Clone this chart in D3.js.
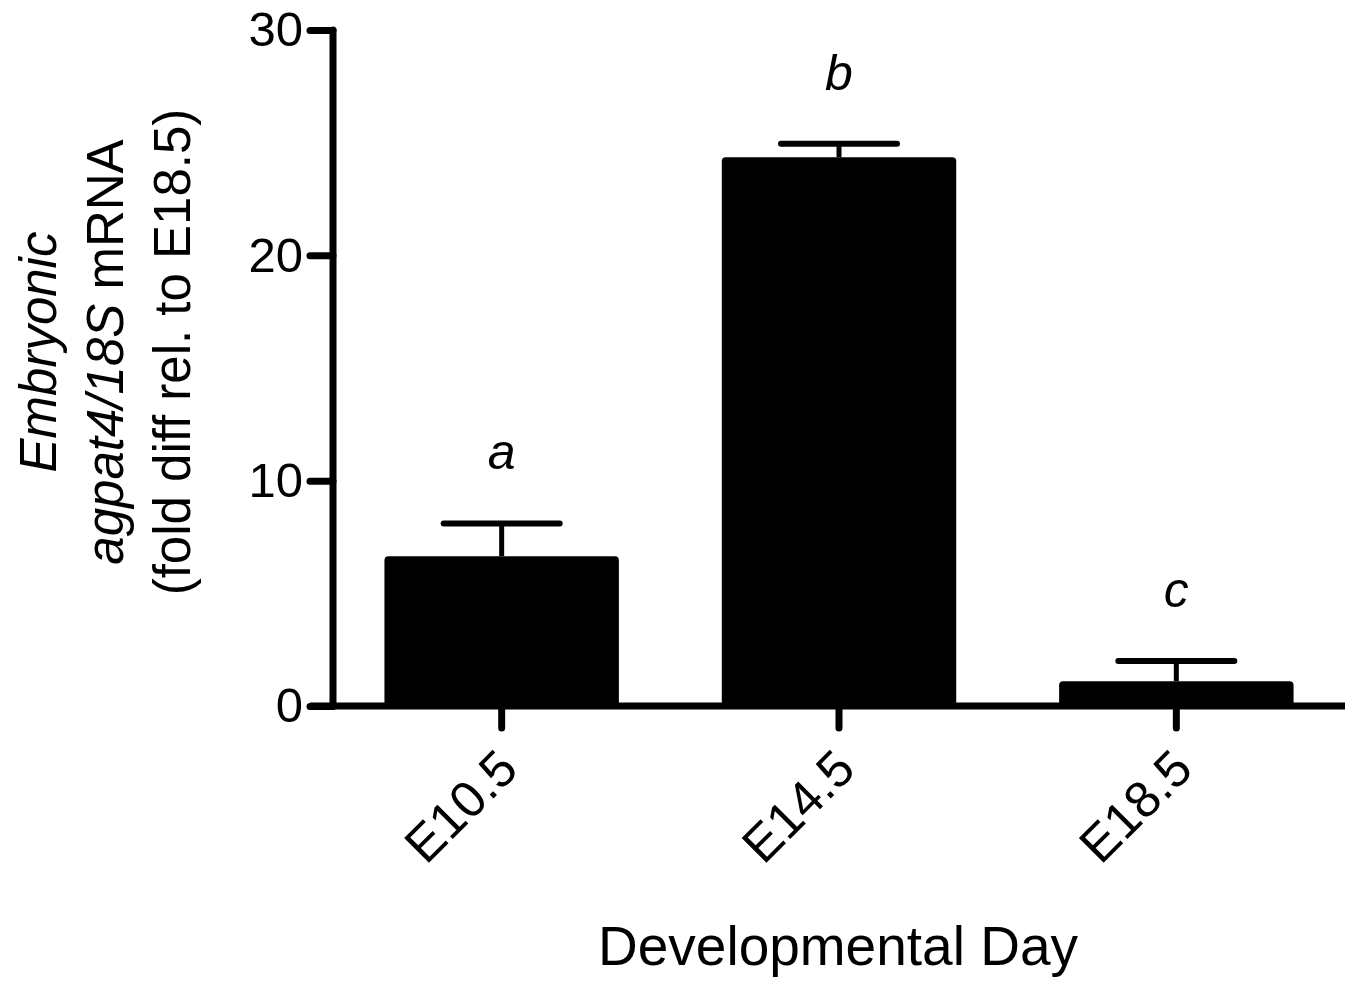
<!DOCTYPE html>
<meta charset="utf-8">
<script src="https://d3js.org/d3.v7.min.js"></script>
<style>
  body { margin: 0; background: #fff; }
  text { font-family: "Liberation Sans", Arial, sans-serif; fill: #000; }
</style>
<div id="chart"></div>
<script>

// data
var days = ["E10.5", "E14.5", "E18.5"];
var means = [6.65, 24.35, 1.1];
var errors = [1.45, 0.6, 0.9];
var letters = ["a", "b", "c"];
var yTicks = [0, 10, 20, 30];

var width = 1351, height = 982;
var x0 = 333, x1 = 1345, yTop = 30, yBottom = 706;

var svg = d3.select("#chart")
  .append("svg")
    .attr("width", width)
    .attr("height", height);

var x = d3.scaleBand()
  .domain(days)
  .range([x0, x1])
  .paddingInner(0.305)
  .paddingOuter(0.1525);

var y = d3.scaleLinear()
  .domain([0, 30])
  .range([yBottom, yTop]);

// bars
svg.selectAll(".bar")
  .data(days)
  .enter()
  .append("rect")
    .attr("x", function(d){ return x(d) })
    .attr("y", function(d, i){ return y(means[i]) })
    .attr("width", x.bandwidth())
    .attr("height", function(d, i){ return y(0) - y(means[i]) })
    .attr("rx", 4)
    .style("fill", "#000");

// error bars (upper only)
var capHalf = 58;
svg.selectAll(".err")
  .data(days)
  .enter()
  .append("line")
    .attr("x1", function(d){ return x(d) + x.bandwidth()/2 })
    .attr("x2", function(d){ return x(d) + x.bandwidth()/2 })
    .attr("y1", function(d, i){ return y(means[i]) })
    .attr("y2", function(d, i){ return y(means[i] + errors[i]) })
    .attr("stroke", "#000")
    .attr("stroke-width", 5);

svg.selectAll(".cap")
  .data(days)
  .enter()
  .append("line")
    .attr("x1", function(d){ return x(d) + x.bandwidth()/2 - capHalf })
    .attr("x2", function(d){ return x(d) + x.bandwidth()/2 + capHalf })
    .attr("y1", function(d, i){ return y(means[i] + errors[i]) })
    .attr("y2", function(d, i){ return y(means[i] + errors[i]) })
    .attr("stroke", "#000")
    .attr("stroke-width", 6)
    .attr("stroke-linecap", "round");

// significance letters
svg.selectAll(".letter")
  .data(days)
  .enter()
  .append("text")
    .attr("x", function(d){ return x(d) + x.bandwidth()/2 })
    .attr("y", function(d, i){ return y(means[i] + errors[i]) - 54 })
    .attr("text-anchor", "middle")
    .style("font-size", "50px")
    .style("font-style", "italic")
    .text(function(d, i){ return letters[i] });

// y axis
var yAxis = svg.append("g")
  .attr("transform", "translate(" + x0 + ",0)")
  .call(d3.axisLeft(y).tickValues(yTicks).tickSize(23).tickSizeOuter(0).tickPadding(7));
yAxis.select(".domain").remove();
yAxis.selectAll(".tick line")
  .attr("stroke", "#000")
  .attr("stroke-width", 7)
  .attr("stroke-linecap", "round");
yAxis.selectAll(".tick text")
  .style("font-size", "49px")
  .attr("font-family", null);
yAxis.append("line")
  .attr("x1", 0).attr("x2", 0)
  .attr("y1", yTop).attr("y2", yBottom)
  .attr("stroke", "#000")
  .attr("stroke-width", 7)
  .attr("stroke-linecap", "round");

// x axis line
svg.append("line")
  .attr("x1", 310).attr("x2", x1)
  .attr("y1", yBottom).attr("y2", yBottom)
  .attr("stroke", "#000")
  .attr("stroke-width", 7);

// x ticks
svg.selectAll(".xtick")
  .data(days)
  .enter()
  .append("line")
    .attr("x1", function(d){ return x(d) + x.bandwidth()/2 })
    .attr("x2", function(d){ return x(d) + x.bandwidth()/2 })
    .attr("y1", yBottom)
    .attr("y2", yBottom + 22)
    .attr("stroke", "#000")
    .attr("stroke-width", 7)
    .attr("stroke-linecap", "round");

// x tick labels, rotated
svg.selectAll(".xlabel")
  .data(days)
  .enter()
  .append("text")
    .attr("transform", function(d){
      return "translate(" + (x(d) + x.bandwidth()/2 + 6) + "," + (yBottom + 53) + ") rotate(-45)";
    })
    .attr("text-anchor", "end")
    .attr("dy", "0.35em")
    .style("font-size", "51px")
    .text(function(d){ return d });

// x axis title
svg.append("text")
  .attr("x", 838)
  .attr("y", 965)
  .attr("text-anchor", "middle")
  .style("font-size", "55px")
  .text("Developmental Day");

// y axis title (three lines)
var yTitle = svg.append("text")
  .attr("transform", "translate(0,352) rotate(-90)")
  .attr("text-anchor", "middle")
  .style("font-size", "51px");
yTitle.append("tspan")
  .attr("x", 0).attr("y", 56)
  .style("font-style", "italic")
  .text("Embryonic");
var l2 = yTitle.append("tspan").attr("x", 0).attr("y", 123);
l2.append("tspan").style("font-style", "italic").text("agpat4/18S");
l2.append("tspan").text(" mRNA");
yTitle.append("tspan")
  .attr("x", 0).attr("y", 190)
  .text("(fold diff rel. to E18.5)");

</script>
